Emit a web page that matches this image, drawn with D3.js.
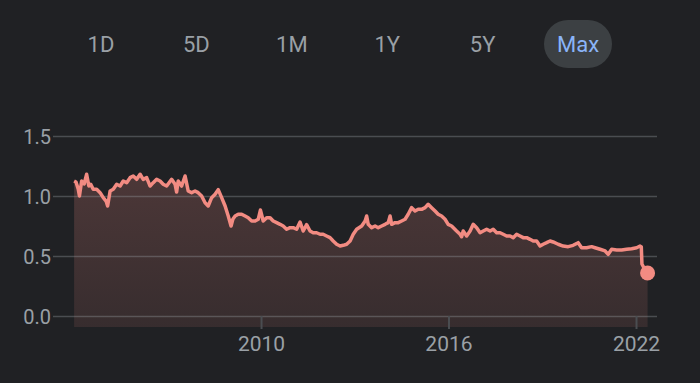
<!DOCTYPE html>
<html>
<head>
<meta charset="utf-8">
<script src="https://cdn.jsdelivr.net/npm/d3@7"></script>
<style>
  html, body { margin: 0; padding: 0; background: #202124; }
  svg { display: block; font-family: Roboto, Arial, sans-serif; }
</style>
</head>
<body>
<script>
// range buttons
var ranges = ["1D", "5D", "1M", "1Y", "5Y", "Max"];
var activeRange = "Max";

// decimal years
var years = [
  2004.02, 2004.08, 2004.15, 2004.19, 2004.26, 2004.34, 2004.42, 2004.49, 2004.55, 2004.63,
  2004.74, 2004.85, 2004.95, 2005.04, 2005.09, 2005.17, 2005.27, 2005.38, 2005.49, 2005.59,
  2005.70, 2005.81, 2005.91, 2006.02, 2006.13, 2006.23, 2006.34, 2006.45, 2006.55, 2006.66,
  2006.77, 2006.87, 2006.98, 2007.14, 2007.25, 2007.30, 2007.35, 2007.46, 2007.57, 2007.67,
  2007.78, 2007.89, 2007.99, 2008.10, 2008.21, 2008.31, 2008.42, 2008.53, 2008.63, 2008.74,
  2008.85, 2008.95, 2009.04, 2009.10, 2009.17, 2009.27, 2009.38, 2009.49, 2009.59, 2009.70,
  2009.81, 2009.91, 2009.98, 2010.07, 2010.18, 2010.29, 2010.39, 2010.50, 2010.61, 2010.71,
  2010.82, 2010.93, 2011.03, 2011.14, 2011.25, 2011.35, 2011.46, 2011.57, 2011.67, 2011.78,
  2011.89, 2011.99, 2012.10, 2012.21, 2012.31, 2012.42, 2012.53, 2012.63, 2012.74, 2012.85,
  2012.95, 2013.06, 2013.22, 2013.33, 2013.38, 2013.43, 2013.54, 2013.65, 2013.75, 2013.86,
  2013.97, 2014.07, 2014.13, 2014.18, 2014.29, 2014.39, 2014.50, 2014.61, 2014.71, 2014.82,
  2014.93, 2015.03, 2015.14, 2015.25, 2015.35, 2015.46, 2015.57, 2015.67, 2015.78, 2015.89,
  2015.99, 2016.10, 2016.26, 2016.37, 2016.42, 2016.47, 2016.58, 2016.69, 2016.79, 2016.90,
  2017.01, 2017.11, 2017.22, 2017.33, 2017.43, 2017.54, 2017.65, 2017.75, 2017.86, 2017.97,
  2018.07, 2018.18, 2018.29, 2018.39, 2018.50, 2018.61, 2018.71, 2018.82, 2018.93, 2019.03,
  2019.14, 2019.25, 2019.35, 2019.51, 2019.67, 2019.83, 2019.99, 2020.15, 2020.26, 2020.42,
  2020.58, 2020.69, 2020.85, 2021.01, 2021.11, 2021.22, 2021.38, 2021.54, 2021.70, 2021.86,
  2022.02, 2022.13, 2022.17, 2022.19, 2022.29, 2022.37
];

var values = [
  1.125, 1.117, 1.058, 1.000, 1.125, 1.100, 1.181, 1.083, 1.098, 1.056,
  1.056, 1.028, 0.986, 0.958, 0.917, 1.042, 1.056, 1.098, 1.083, 1.125,
  1.111, 1.153, 1.167, 1.139, 1.181, 1.139, 1.153, 1.083, 1.111, 1.139,
  1.125, 1.098, 1.083, 1.139, 1.098, 1.033, 1.125, 1.083, 1.167, 1.042,
  1.028, 1.042, 1.028, 1.000, 0.944, 0.917, 0.986, 1.014, 1.053, 0.986,
  0.917, 0.833, 0.750, 0.808, 0.833, 0.848, 0.848, 0.833, 0.819, 0.792,
  0.792, 0.806, 0.883, 0.792, 0.819, 0.819, 0.792, 0.778, 0.764, 0.750,
  0.723, 0.736, 0.736, 0.723, 0.783, 0.708, 0.761, 0.708, 0.694, 0.694,
  0.681, 0.681, 0.667, 0.653, 0.625, 0.598, 0.583, 0.589, 0.598, 0.625,
  0.681, 0.723, 0.750, 0.792, 0.833, 0.764, 0.736, 0.750, 0.736, 0.750,
  0.764, 0.778, 0.833, 0.764, 0.778, 0.778, 0.792, 0.806, 0.848, 0.903,
  0.875, 0.889, 0.889, 0.903, 0.931, 0.903, 0.875, 0.848, 0.833, 0.806,
  0.764, 0.750, 0.708, 0.681, 0.661, 0.708, 0.667, 0.708, 0.764, 0.736,
  0.694, 0.708, 0.723, 0.708, 0.723, 0.694, 0.694, 0.681, 0.667, 0.667,
  0.653, 0.681, 0.667, 0.653, 0.653, 0.639, 0.625, 0.625, 0.583, 0.598,
  0.611, 0.625, 0.617, 0.598, 0.583, 0.578, 0.589, 0.611, 0.569, 0.569,
  0.578, 0.569, 0.556, 0.542, 0.514, 0.556, 0.550, 0.550, 0.556, 0.561,
  0.569, 0.583, 0.575, 0.433, 0.383, 0.358
];

var yTicks = [0, 0.5, 1.0, 1.5];
var xTicks = [2010, 2016, 2022];
var firstYear = 2004.016, lastYear = 2022.384;

function toDate(t) {
    var y = Math.floor(t);
    var a = new Date(y, 0, 1), b = new Date(y + 1, 0, 1);
    return new Date(+a + (t - y) * (b - a));
}

var data = years.map(function(t, i) { return {date: toDate(t), value: values[i]}; });

var width = 700, height = 383;
var svg = d3.select("body").append("svg")
    .attr("width", width)
    .attr("height", height);

// buttons row
var bx = d3.scalePoint().domain(ranges).range([101, 578]);
var btn = svg.append("g").attr("class", "ranges")
    .selectAll("g")
    .data(ranges)
    .enter()
    .append("g")
    .attr("transform", function(d) { return "translate(" + bx(d) + ",44)"; });

btn.filter(function(d) { return d == activeRange; })
    .append("rect")
    .attr("x", -34).attr("y", -24)
    .attr("width", 68).attr("height", 48)
    .attr("rx", 24)
    .attr("fill", "#3c4043");

btn.append("text")
    .attr("text-anchor", "middle")
    .attr("y", 8)
    .attr("font-size", 22)
    .attr("fill", function(d) { return d == activeRange ? "#8ab4f8" : "#9aa0a6"; })
    .text(function(d) { return d; });

// scales
var x = d3.scaleTime()
    .domain([toDate(firstYear), toDate(lastYear)])
    .range([74, 648]);
var y = d3.scaleLinear()
    .domain([0, 1.5])
    .range([316, 136]);

// area gradient
var defs = svg.append("defs");
var grad = defs.append("linearGradient")
    .attr("id", "fillGrad")
    .attr("x1", 0).attr("y1", 0).attr("x2", 0).attr("y2", 1);
grad.append("stop").attr("offset", "0%").attr("stop-color", "#f28b82").attr("stop-opacity", 0.21);
grad.append("stop").attr("offset", "100%").attr("stop-color", "#f28b82").attr("stop-opacity", 0.11);

var area = d3.area()
    .x(function(d) { return x(d.date); })
    .y0(y(0) + 11)
    .y1(function(d) { return y(d.value); });

svg.append("path")
    .datum(data)
    .attr("d", area)
    .attr("fill", "url(#fillGrad)");

// y grid + labels
var yAxis = svg.append("g")
    .attr("transform", "translate(53,0)")
    .call(d3.axisLeft(y).tickValues(yTicks).tickFormat(d3.format(".1f")).tickSize(-604).tickPadding(2));
yAxis.select(".domain").remove();
yAxis.selectAll("line")
    .attr("stroke", "rgba(154,160,166,0.35)")
    .attr("stroke-width", 1.5);
yAxis.selectAll("text")
    .attr("fill", "#9aa0a6")
    .attr("font-size", 20)
    .attr("font-family", "Roboto, Arial, sans-serif")
    .attr("dy", "0.35em");

// x ticks
var xAxis = svg.append("g")
    .attr("transform", "translate(0," + y(0) + ")")
    .call(d3.axisBottom(x).tickValues(xTicks.map(function(t) { return toDate(t); }))
        .tickFormat(d3.timeFormat("%Y")).tickSize(13).tickPadding(8));
xAxis.select(".domain").remove();
xAxis.selectAll("line")
    .attr("stroke", "#4a4d51")
    .attr("stroke-width", 2);
xAxis.selectAll("text")
    .attr("fill", "#9aa0a6")
    .attr("font-size", 21)
    .attr("font-family", "Roboto, Arial, sans-serif")
    .attr("y", 35)
    .attr("dy", null);

// line
var line = d3.line()
    .x(function(d) { return x(d.date); })
    .y(function(d) { return y(d.value); });

svg.append("path")
    .datum(data)
    .attr("d", line)
    .attr("fill", "none")
    .attr("stroke", "#f28b82")
    .attr("stroke-width", 3.5)
    .attr("stroke-linejoin", "round");

var last = data[data.length - 1];
svg.append("circle")
    .attr("cx", x(last.date))
    .attr("cy", y(last.value))
    .attr("r", 7.5)
    .attr("fill", "#f28b82");
</script>
</body>
</html>
